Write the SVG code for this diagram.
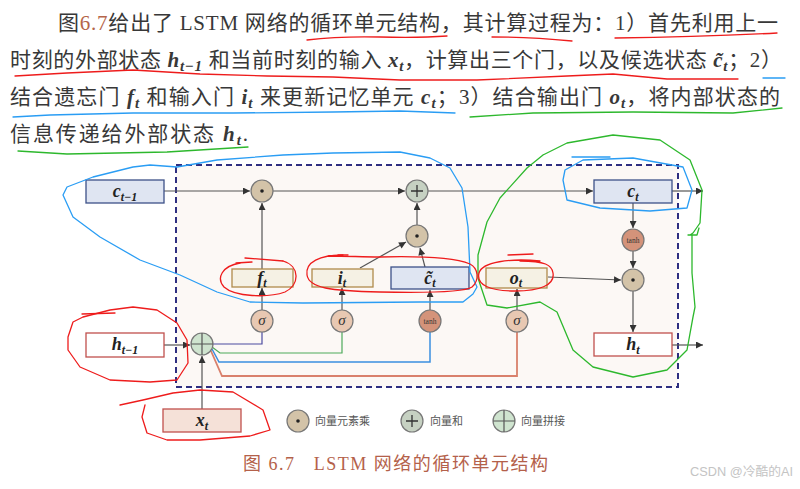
<svg xmlns="http://www.w3.org/2000/svg" width="800" height="489" viewBox="0 0 800 489">
<defs>
<marker id="arr" viewBox="0 0 10 10" refX="10" refY="5" markerWidth="8" markerHeight="7" markerUnits="userSpaceOnUse" orient="auto"><path d="M0,0 L10,5 L0,10 z" fill="#333"/></marker>
<style>
.para{font-family:"Liberation Serif","Noto Sans CJK SC",serif;font-size:21px;fill:#383838}
.m{font-family:"Liberation Serif",serif;font-weight:bold;font-style:italic}
.sub{font-family:"Liberation Serif",serif;font-style:italic;font-weight:bold;font-size:15px}
.lbl{font-family:"Liberation Serif",serif;font-weight:bold;font-style:italic;font-size:18px;fill:#222;text-anchor:middle}
.lsub{font-size:12px;font-weight:bold}
.op{stroke:#777;stroke-width:1.2}
.mul{fill:#d3c3a8}
.sum{fill:#c6d1c2}
.cat{fill:#cfe4cf}
.sig{fill:#e8c8b2}
.tnh{fill:#d4937a}
.sym{font-family:"Liberation Serif",serif;font-style:italic;font-size:15px;fill:#333;text-anchor:middle}
.tanh{font-family:"Liberation Serif",serif;font-size:7.5px;fill:#333;text-anchor:middle}
.leg{font-family:"Noto Sans CJK SC",sans-serif;font-size:11px;fill:#555}
.red{fill:none;stroke:#ee1c1c;stroke-width:1.3;stroke-linecap:round;stroke-linejoin:round}
.blue{fill:none;stroke:#2a9df4;stroke-width:1.3;stroke-linecap:round;stroke-linejoin:round}
.green{fill:none;stroke:#2db82d;stroke-width:1.3;stroke-linecap:round;stroke-linejoin:round}
</style>
</defs>
<rect width="800" height="489" fill="#fff"/>

<g id="paragraph" class="para">
<text x="58" y="30" textLength="720" lengthAdjust="spacing">图<tspan fill="#b5654a">6.7</tspan>给出了 LSTM 网络的循环单元结构，其计算过程为：1）首先利用上一</text>
<text x="10" y="67" textLength="772" lengthAdjust="spacing">时刻的外部状态 <tspan class="m">h</tspan><tspan class="sub" dy="4">t−1</tspan><tspan dy="-4"> 和当前时刻的输入 </tspan><tspan class="m">x</tspan><tspan class="sub" dy="4">t</tspan><tspan dy="-4">，计算出三个门，以及候选状态 </tspan><tspan class="m">c̃</tspan><tspan class="sub" dy="4">t</tspan><tspan dy="-4">；2）</tspan></text>
<text x="10" y="104" textLength="770" lengthAdjust="spacing">结合遗忘门 <tspan class="m">f</tspan><tspan class="sub" dy="4">t</tspan><tspan dy="-4"> 和输入门 </tspan><tspan class="m">i</tspan><tspan class="sub" dy="4">t</tspan><tspan dy="-4"> 来更新记忆单元 </tspan><tspan class="m">c</tspan><tspan class="sub" dy="4">t</tspan><tspan dy="-4">；3）结合输出门 </tspan><tspan class="m">o</tspan><tspan class="sub" dy="4">t</tspan><tspan dy="-4">，将内部状态的</tspan></text>
<text x="10" y="141" textLength="238" lengthAdjust="spacing">信息传递给外部状态 <tspan class="m">h</tspan><tspan class="sub" dy="4">t</tspan><tspan dy="-4">.</tspan></text>
</g>

<g id="cell-frame">
<rect x="176" y="165" width="502" height="222" fill="#fcf8f5" stroke="#2e2e80" stroke-width="2" stroke-dasharray="6,4"/>
</g>

<g id="connectors" fill="none" stroke="#555" stroke-width="1.2">
<path d="M164,191 H250" marker-end="url(#arr)"/>
<path d="M273,191 H405" marker-end="url(#arr)"/>
<path d="M428,191 H593" marker-end="url(#arr)"/>
<path d="M672,191 H703" marker-end="url(#arr)"/>
<path d="M633,203 V228" marker-end="url(#arr)"/>
<path d="M633,251 V268" marker-end="url(#arr)"/>
<path d="M548,277 L621,280" marker-end="url(#arr)"/>
<path d="M633,291 V332" marker-end="url(#arr)"/>
<path d="M672,345 H703" marker-end="url(#arr)"/>
<path d="M164,345 H190" marker-end="url(#arr)"/>
<path d="M202,409 V356" marker-end="url(#arr)"/>
<path d="M262,269 V203" marker-end="url(#arr)"/>
<path d="M360,268 L406,242" marker-end="url(#arr)"/>
<path d="M425,267 L420,248" marker-end="url(#arr)"/>
<path d="M417,225 V203" marker-end="url(#arr)"/>
<path d="M262,310 V288" marker-end="url(#arr)"/>
<path d="M342,310 V288" marker-end="url(#arr)"/>
<path d="M430,310 V290" marker-end="url(#arr)"/>
<path d="M517,310 V289" marker-end="url(#arr)"/>
<path d="M213,344 H262 V332" stroke="#4b4ba0"/>
<path d="M212,347 L220,353 H342 V332" stroke="#4caa5a"/>
<path d="M212,349 L219,362 H430 V332" stroke="#3a8ee0" stroke-width="1.5"/>
<path d="M211,351 L222,376 H517 V332" stroke="#d9806c" stroke-width="1.8"/>
</g>

<g id="c_prev"><rect x="86" y="180" width="78" height="23" fill="#dfe5f2" stroke="#3d5188" stroke-width="1.3"/><text class="lbl" x="125" y="197">c<tspan class="lsub" dy="4">t−1</tspan></text></g>
<g id="h_prev"><rect x="86" y="333" width="78" height="24" fill="#fff" stroke="#c0504d" stroke-width="1.3"/><text class="lbl" x="125" y="350">h<tspan class="lsub" dy="4">t−1</tspan></text></g>
<g id="x_t"><rect x="163" y="409" width="78" height="23" fill="#f5e1d8" stroke="#c0504d" stroke-width="1.3"/><text class="lbl" x="202" y="426">x<tspan class="lsub" dy="4">t</tspan></text></g>
<g id="f_t"><rect x="232" y="269" width="61" height="18" fill="#f5f1e4" stroke="#b08a4a" stroke-width="1.3"/><text class="lbl" x="262" y="284">f<tspan class="lsub" dy="3">t</tspan></text></g>
<g id="i_t"><rect x="312" y="269" width="61" height="18" fill="#f5f1e4" stroke="#b08a4a" stroke-width="1.3"/><text class="lbl" x="342" y="284">i<tspan class="lsub" dy="3">t</tspan></text></g>
<g id="c_tilde"><rect x="391" y="267" width="78" height="22" fill="#dfe5f2" stroke="#3d5188" stroke-width="1.3"/><text class="lbl" x="430" y="284">c̃<tspan class="lsub" dy="3">t</tspan></text></g>
<g id="o_t"><rect x="486" y="268" width="61" height="20" fill="#f5f1e4" stroke="#b08a4a" stroke-width="1.3"/><text class="lbl" x="516" y="284">o<tspan class="lsub" dy="3">t</tspan></text></g>
<g id="c_t"><rect x="594" y="180" width="78" height="23" fill="#dfe5f2" stroke="#3d5188" stroke-width="1.3"/><text class="lbl" x="633" y="197">c<tspan class="lsub" dy="4">t</tspan></text></g>
<g id="h_t"><rect x="594" y="333" width="78" height="23" fill="#fff" stroke="#c0504d" stroke-width="1.3"/><text class="lbl" x="633" y="350">h<tspan class="lsub" dy="4">t</tspan></text></g>

<g id="concat"><circle class="op cat" cx="202" cy="344" r="11"/><path d="M191,344 H213 M202,333 V355" stroke="#555" stroke-width="1.2"/></g>
<g id="mul_forget"><circle class="op mul" cx="262" cy="191" r="11"/><circle cx="262" cy="191" r="1.8" fill="#222"/></g>
<g id="sum"><circle class="op sum" cx="417" cy="191" r="11"/><path d="M411,191 H423 M417,185 V197" stroke="#333" stroke-width="1.3"/></g>
<g id="mul_input"><circle class="op mul" cx="417" cy="236" r="11"/><circle cx="417" cy="236" r="1.8" fill="#222"/></g>
<g id="tanh_c"><circle class="op tnh" cx="633" cy="240" r="11"/><text class="tanh" x="633" y="242.5">tanh</text></g>
<g id="mul_output"><circle class="op mul" cx="633" cy="280" r="11"/><circle cx="633" cy="280" r="1.8" fill="#222"/></g>
<g id="sigma_f"><circle class="op sig" cx="262" cy="321" r="11"/><text class="sym" x="262" y="325">σ</text></g>
<g id="sigma_i"><circle class="op sig" cx="342" cy="321" r="11"/><text class="sym" x="342" y="325">σ</text></g>
<g id="tanh_g"><circle class="op tnh" cx="430" cy="321" r="11"/><text class="tanh" x="430" y="323.5">tanh</text></g>
<g id="sigma_o"><circle class="op sig" cx="517" cy="321" r="11"/><text class="sym" x="517" y="325">σ</text></g>

<g id="legend">
<circle class="op mul" cx="298" cy="421" r="11"/><circle cx="298" cy="421" r="1.8" fill="#222"/>
<text class="leg" x="315" y="425">向量元素乘</text>
<circle class="op sum" cx="412" cy="421" r="11"/><path d="M406,421 H418 M412,415 V427" stroke="#333" stroke-width="1.3"/>
<text class="leg" x="430" y="425">向量和</text>
<circle class="op cat" cx="504" cy="421" r="11"/><path d="M493,421 H515 M504,410 V432" stroke="#555" stroke-width="1.2"/>
<text class="leg" x="521" y="425">向量拼接</text>
</g>

<g id="caption">
<text x="243" y="470" textLength="305" lengthAdjust="spacing" font-family="Liberation Serif,Noto Sans CJK SC,serif" font-size="18" fill="#b4614a" xml:space="preserve">图 6.7   LSTM 网络的循环单元结构</text>
<text x="690" y="476" textLength="103" lengthAdjust="spacingAndGlyphs" font-family="Liberation Sans,Noto Sans CJK SC,sans-serif" font-size="12" fill="#c4c4c4">CSDN @冷酷的AI</text>
</g>

<g id="annotations">
<path class="red" stroke-width="2.4" d="M307,40 Q340,36 380,37 Q420,38 447,36"/>
<path class="red" stroke-width="2.4" d="M492,37 Q530,37 572,41"/>
<path class="red" d="M615,38 Q700,37 777,33"/>
<path class="red" d="M15,76 L67,73 L133,70 L200,74 L267,76 L333,77 L400,80 L477,80 L567,76 L613,74 L667,79 L738,79"/>
<path class="blue" d="M763,78 L785,78"/>
<path class="blue" d="M13,117 L50,115 L133,113 L233,113 L333,112 L400,111 L455,113"/>
<path class="green" d="M470,117 L533,113 L633,112 L733,113 L782,108"/>
<path class="green" d="M18,151 L67,154 L167,152 L248,147"/>

<path class="blue" d="M430,158 L400,152 L333,153 L283,155 L217,160 L177,167 L150,165 L133,167 L93,177 L67,187 L63,195 L73,217 L100,237 L140,260 L180,275 L217,292 L250,302 L303,303 L420,302 L463,302 L473,294 L477,287 L470,272 L468,227 L462,188 L450,168 L430,158"/>
<path class="blue" d="M572,157 L610,157"/>
<path class="blue" d="M583,160 L633,158 L683,167 L692,190 L687,208 L650,211 L600,208 L567,200 L563,180 L565,170 L583,160"/>

<path class="green" d="M543,155 L567,143 L613,135 L660,140 L690,160 L702,190 L700,223 L693,233 L690,235 M688,235 L697,235 L699,228 M692,235 L692,273 L695,307 L693,317 L687,350 L667,370 L633,377 L593,367 L573,350 L557,312 L540,302 L507,308 L487,305 L478,278 L478,255 L487,222 L500,198 L527,168 L543,155"/>

<path class="red" d="M245,258 L283,261 M236,263 L252,262"/>
<path class="red" d="M283,261 C300,266 300,285 285,292 C268,298 235,297 224,287 C216,278 222,266 240,263"/>
<path class="red" d="M343,255 C320,255 305,262 307,275 C309,288 330,291 380,292 C430,293 465,292 472,287 C480,280 478,268 470,264 C455,258 420,256 380,257 C360,257 350,256 328,256"/>
<path class="red" stroke-width="2" d="M338,255 L348,255"/>
<path class="red" d="M508,255 L533,254"/>
<path class="red" d="M540,261 C510,258 482,262 479,273 C476,285 490,291 515,291 C540,291 555,285 553,273 C552,265 545,261 520,261"/>
<path class="red" d="M82,314 L115,313"/>
<path class="red" d="M83,317 L73,322 L68,337 L68,350 L80,367 L110,380 L150,382 L177,380 L188,363 L187,340 L177,323 L157,310 L133,307 L110,310 L83,317"/>
<path class="red" d="M120,405 L143,400 L173,393 L200,390 L233,392 L263,410 L270,430 L250,436 L200,440 L167,440 L147,433 L142,417 L145,405"/>
</g>
</svg>
